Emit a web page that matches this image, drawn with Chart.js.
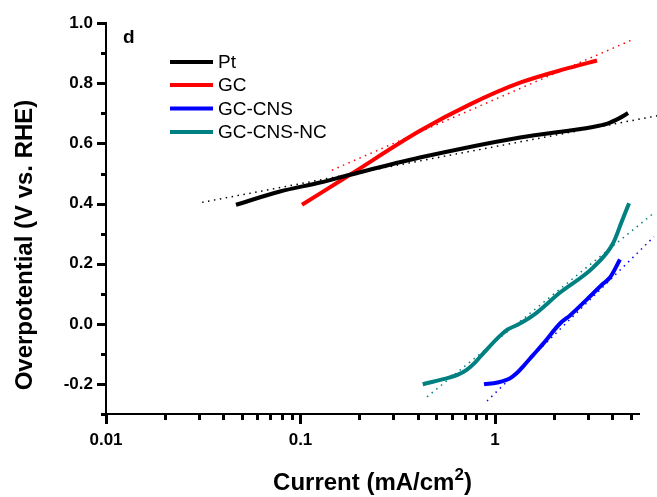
<!DOCTYPE html>
<html>
<head>
<meta charset="utf-8">
<script src="https://cdn.jsdelivr.net/npm/chart.js@4.4.0/dist/chart.umd.min.js"></script>
<style>
  html, body { margin: 0; padding: 0; background: #fff; }
</style>
</head>
<body>
<canvas id="myChart" width="657" height="497"></canvas>
<script>

// values (current in mA/cm2, overpotential in V)
const ptCurrent = [0.0466, 0.0784, 0.126, 0.180, 0.411, 1.345, 3.19, 3.75, 4.39, 4.83];
const ptOverpot = [0.396, 0.440, 0.470, 0.496, 0.553, 0.620, 0.655, 0.665, 0.685, 0.701];

const gcCurrent = [0.1018, 0.1796, 0.4114, 0.7437, 1.345, 2.43, 3.345];
const gcOverpot = [0.396, 0.496, 0.642, 0.730, 0.802, 0.852, 0.876];

const cnsCurrent = [0.878, 1.03, 1.19, 1.30, 1.39, 1.57, 1.77, 2.16, 2.43, 3.19, 3.59, 3.90, 4.39];
const cnsOverpot = [-0.201, -0.195, -0.182, -0.163, -0.143, -0.104, -0.066, 0.001, 0.028, 0.101, 0.133, 0.154, 0.214];

const ncCurrent = [0.425, 0.587, 0.645, 0.718, 0.789, 0.868, 1.06, 1.166, 1.30, 1.57, 2.16, 3.19, 4.04, 4.50, 4.89];
const ncOverpot = [-0.201, -0.178, -0.169, -0.152, -0.129, -0.099, -0.040, -0.018, -0.004, 0.028, 0.104, 0.187, 0.267, 0.343, 0.401];

// dotted Tafel fit lines (two end points each)
const ptFitCurrent = [0.0312, 6.81];
const ptFitOverpot = [0.404, 0.692];
const gcFitCurrent = [0.145, 5.0];
const gcFitOverpot = [0.511, 0.943];
const cnsFitCurrent = [0.91, 6.57];
const cnsFitOverpot = [-0.257, 0.290];
const ncFitCurrent = [0.447, 6.49];
const ncFitOverpot = [-0.243, 0.3665];

const seriesNames = ['Pt', 'GC', 'GC-CNS', 'GC-CNS-NC'];
const seriesColors = ['#000000', '#ff0000', '#0000ff', '#008080'];

// axis ticks
const xMajorTicks = [0.01, 0.1, 1];
const xMinorTicks = [0.02, 0.03, 0.04, 0.05, 0.06, 0.07, 0.08, 0.09,
                     0.2, 0.3, 0.4, 0.5, 0.6, 0.7, 0.8, 0.9, 2, 3, 4, 5];
const xTickLabels = ['0.01', '0.1', '1'];
const yMajorTicks = [-0.2, 0, 0.2, 0.4, 0.6, 0.8, 1.0];
const yMinorTicks = [-0.3, -0.1, 0.1, 0.3, 0.5, 0.7, 0.9];
const yTickLabels = ['-0.2', '0.0', '0.2', '0.4', '0.6', '0.8', '1.0'];

const FONT = '"Liberation Sans", Arial, sans-serif';

let pts = (xs, ys) => xs.map((x, i) => ({ x: x, y: ys[i] }));

let solid = (i, xs, ys) => ({
  label: seriesNames[i],
  data: pts(xs, ys),
  borderColor: seriesColors[i],
  borderWidth: 4,
  pointRadius: 0,
  cubicInterpolationMode: 'monotone',
  fill: false,
  clip: false,
  order: 1
});

let dotted = (i, xs, ys) => ({
  label: seriesNames[i] + ' fit',
  data: pts(xs, ys),
  borderColor: seriesColors[i],
  borderWidth: 1.5,
  borderDash: [1.5, 4.5],
  pointRadius: 0,
  fill: false,
  clip: false,
  order: 0
});

const decor = {
  id: 'decor',
  afterDraw(chart) {
    const ctx = chart.ctx;
    const sx = chart.scales.x, sy = chart.scales.y;
    const area = chart.chartArea;
    ctx.save();
    ctx.setLineDash([]);
    ctx.globalAlpha = 1;
    ctx.fillStyle = '#000';

    // tick marks, pointing out of the plot
    let yTick = (v, len) => {
      let py = Math.round(sy.getPixelForValue(v));
      ctx.fillRect(area.left - len - 1, py - 1, len + 1, 3);
    };
    let xTick = (v, len) => {
      let px = Math.round(sx.getPixelForValue(v));
      ctx.fillRect(px - 1, area.bottom, 3, len + 1);
    };
    yMajorTicks.forEach(v => yTick(v, 8));
    yMinorTicks.forEach(v => yTick(v, 4));
    xMajorTicks.forEach(v => xTick(v, 9));
    xMinorTicks.forEach(v => xTick(v, 5));

    ctx.textBaseline = 'alphabetic';

    // x title with superscript
    let t1 = 'Current (mA/cm', t2 = '2', t3 = ')';
    ctx.font = 'bold 24px ' + FONT;
    let w1 = ctx.measureText(t1).width, w3 = ctx.measureText(t3).width;
    ctx.font = 'bold 17px ' + FONT;
    let w2 = ctx.measureText(t2).width;
    let x0 = (area.left + area.right) / 2 - (w1 + w2 + w3) / 2;
    ctx.textAlign = 'left';
    ctx.font = 'bold 24px ' + FONT;
    ctx.fillText(t1, x0, 490);
    ctx.fillText(t3, x0 + w1 + w2, 490);
    ctx.font = 'bold 17px ' + FONT;
    ctx.fillText(t2, x0 + w1, 480);

    // y title
    ctx.save();
    ctx.translate(32, 245);
    ctx.rotate(-Math.PI / 2);
    ctx.textAlign = 'center';
    ctx.font = 'bold 24px ' + FONT;
    ctx.fillText('Overpotential (V vs. RHE)', 0, 0);
    ctx.restore();

    // panel letter
    ctx.textAlign = 'left';
    ctx.font = 'bold 19px ' + FONT;
    ctx.fillText('d', 123, 43);

    // legend
    const rows = [62, 85, 108.5, 132];
    ctx.font = '19px ' + FONT;
    ctx.textBaseline = 'middle';
    for (let i = 0; i < 4; i++) {
      let ds = chart.data.datasets[i];
      ctx.fillStyle = ds.borderColor;
      ctx.fillRect(170, rows[i] - 2, 43, 4);
      ctx.fillStyle = '#000';
      ctx.fillText(ds.label, 218, rows[i] + 1);
    }
    ctx.restore();
  }
};

const config = {
  type: 'line',
  data: {
    datasets: [
      solid(0, ptCurrent, ptOverpot),
      solid(1, gcCurrent, gcOverpot),
      solid(2, cnsCurrent, cnsOverpot),
      solid(3, ncCurrent, ncOverpot),
      dotted(0, ptFitCurrent, ptFitOverpot),
      dotted(1, gcFitCurrent, gcFitOverpot),
      dotted(2, cnsFitCurrent, cnsFitOverpot),
      dotted(3, ncFitCurrent, ncFitOverpot)
    ]
  },
  options: {
    responsive: false,
    animation: false,
    layout: { padding: { top: 22, right: 18, left: 0, bottom: 0 } },
    plugins: {
      legend: { display: false },
      tooltip: { enabled: false }
    },
    scales: {
      x: {
        type: 'logarithmic',
        min: 0.01,
        max: 5.5,
        afterBuildTicks: (scale) => {
          scale.ticks = xMajorTicks.map(v => ({ value: v, major: true }));
        },
        grid: { display: false, drawTicks: false },
        border: { display: true, color: '#000', width: 2 },
        ticks: {
          autoSkip: false,
          maxRotation: 0,
          padding: 16,
          color: '#000',
          font: { family: FONT, size: 17, weight: 'bold' },
          callback: (v, i) => xTickLabels[i]
        },
        afterFit: (scale) => { scale.height = 83; }
      },
      y: {
        min: -0.3,
        max: 1.0,
        afterBuildTicks: (scale) => {
          scale.ticks = yMajorTicks.map(v => ({ value: v }));
        },
        grid: { display: false, drawTicks: false },
        border: { display: true, color: '#000', width: 2 },
        ticks: {
          padding: 13,
          color: '#000',
          font: { family: FONT, size: 17, weight: 'bold' },
          callback: (v, i) => yTickLabels[i]
        },
        afterFit: (scale) => { scale.width = 106; }
      }
    }
  },
  plugins: [decor]
};

const chart = new Chart(document.getElementById('myChart'), config);

</script>
</body>
</html>
